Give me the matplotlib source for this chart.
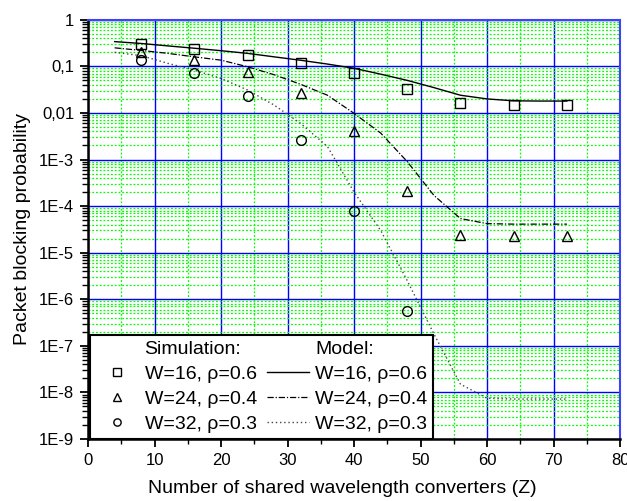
import numpy as np
import matplotlib
matplotlib.use('Agg')
import matplotlib.pyplot as plt
from matplotlib.lines import Line2D
from matplotlib.ticker import FixedLocator, LogLocator, MultipleLocator

plt.rcParams['font.family'] = ['Liberation Sans', 'DejaVu Sans']

# Simulation points
sim_x = [8, 16, 24, 32, 40, 48, 56, 64, 72]
sim_w16 = [0.30, 0.235, 0.175, 0.118, 0.071, 0.032, 0.0163, 0.0145, 0.0145]
sim_w24 = [0.20, 0.136, 0.075, 0.027, 0.0041, 2.1e-4, 2.4e-5, 2.3e-5, 2.3e-5]
sim32_x = [8, 16, 24, 32, 40, 48]
sim_w32 = [0.136, 0.073, 0.0226, 2.6e-3, 7.7e-5, 5.7e-7]

# Model curves
model_x = [4, 8, 12, 16, 20, 24, 28, 32, 36, 40, 44, 48, 52, 56, 60, 64, 68, 72]
mod_w16 = [0.34, 0.31, 0.275, 0.245, 0.217, 0.19, 0.16, 0.135, 0.112, 0.091,
           0.068, 0.05, 0.035, 0.024, 0.02, 0.0182, 0.018, 0.018]
mod_w24 = [0.25, 0.22, 0.19, 0.16, 0.136, 0.098, 0.066, 0.041, 0.024, 0.0098,
           3.7e-3, 9e-4, 1.7e-4, 5.4e-5, 4.2e-5, 4.1e-5, 4.1e-5, 4.1e-5]
mod_w32 = [0.2, 0.17, 0.116, 0.083, 0.055, 0.031, 0.0147, 5.9e-3, 1.9e-3, 2e-4,
           3e-5, 2.5e-6, 1.8e-7, 1.5e-8, 7.5e-9, 7.2e-9, 7.2e-9, 7.2e-9]

labels = ['W=16, \u03c1=0.6', 'W=24, \u03c1=0.4', 'W=32, \u03c1=0.3']
ytick_vals = [1, 0.1, 0.01, 1e-3, 1e-4, 1e-5, 1e-6, 1e-7, 1e-8, 1e-9]
ytick_text = ['1', '0,1', '0,01', '1E-3', '1E-4', '1E-5', '1E-6', '1E-7', '1E-8', '1E-9']

fig = plt.figure(figsize=(6.27, 5.01), dpi=100)
ax = fig.add_axes([0.1404, 0.1238, 0.8486, 0.8367])

# model lines
l1, = ax.plot(model_x, mod_w16, '-', color='k', lw=1.0)
l2, = ax.plot(model_x, mod_w24, color='k', lw=0.9, dashes=[5, 1.5, 1, 1.5])
l3, = ax.plot(model_x, mod_w32, color='#444444', lw=1.0, dashes=[1, 2])

mk = dict(ls='none', mfc='none', mec='k', mew=1.0, ms=7)
s1, = ax.plot(sim_x, sim_w16, marker='s', **mk)
s2, = ax.plot(sim_x, sim_w24, marker='^', **mk)
s3, = ax.plot(sim32_x, sim_w32, marker='o', **mk)

ax.set_yscale('log')
ax.set_xlim(0, 80)
ax.set_ylim(1e-9, 1)
ax.xaxis.set_major_locator(MultipleLocator(10))
ax.xaxis.set_minor_locator(MultipleLocator(5))
ax.yaxis.set_major_locator(FixedLocator(ytick_vals))
ax.set_yticklabels(ytick_text)
ax.yaxis.set_minor_locator(LogLocator(base=10, subs=np.arange(2, 10), numticks=20))

ax.grid(which='major', color='#0000ff', lw=1.0, ls='-')
ax.grid(which='minor', color='#00ff00', lw=0.9, ls=(0, (1.5, 1.5)))
ax.set_axisbelow(True)

for side in ['left', 'bottom']:
    ax.spines[side].set_color('k')
    ax.spines[side].set_linewidth(1.8)
for side in ['top', 'right']:
    ax.spines[side].set_color('#4040ff')
    ax.spines[side].set_linewidth(1.5)

ax.tick_params(which='major', direction='out', length=6, width=1.3, labelsize=12, pad=4)
ax.tick_params(which='minor', direction='out', length=3.5, width=1.0)
ax.tick_params(axis='y', which='minor', length=4)

ax.set_xlabel('Number of shared wavelength converters (Z)', fontsize=14)
ax.xaxis.set_label_coords(0.478, -0.098)
ax.set_ylabel('Packet blocking probability', fontsize=14, labelpad=6)

blank = Line2D([], [], ls='none')
handles = [blank, s1, s2, s3, blank, l1, l2, l3]
texts = ['Simulation:'] + labels + ['Model:'] + labels
leg = ax.legend(handles, texts, ncol=2, loc='lower left', bbox_to_anchor=(0.004, 0.0),
                fontsize=14, frameon=True, fancybox=False, framealpha=1,
                edgecolor='k', handlelength=2.2, handletextpad=0.3,
                columnspacing=0.5, borderpad=0.3, labelspacing=0.38,
                borderaxespad=0.0, markerscale=0.75)
leg.get_frame().set_linewidth(1.5)

fig.savefig('out.png', dpi=100)
